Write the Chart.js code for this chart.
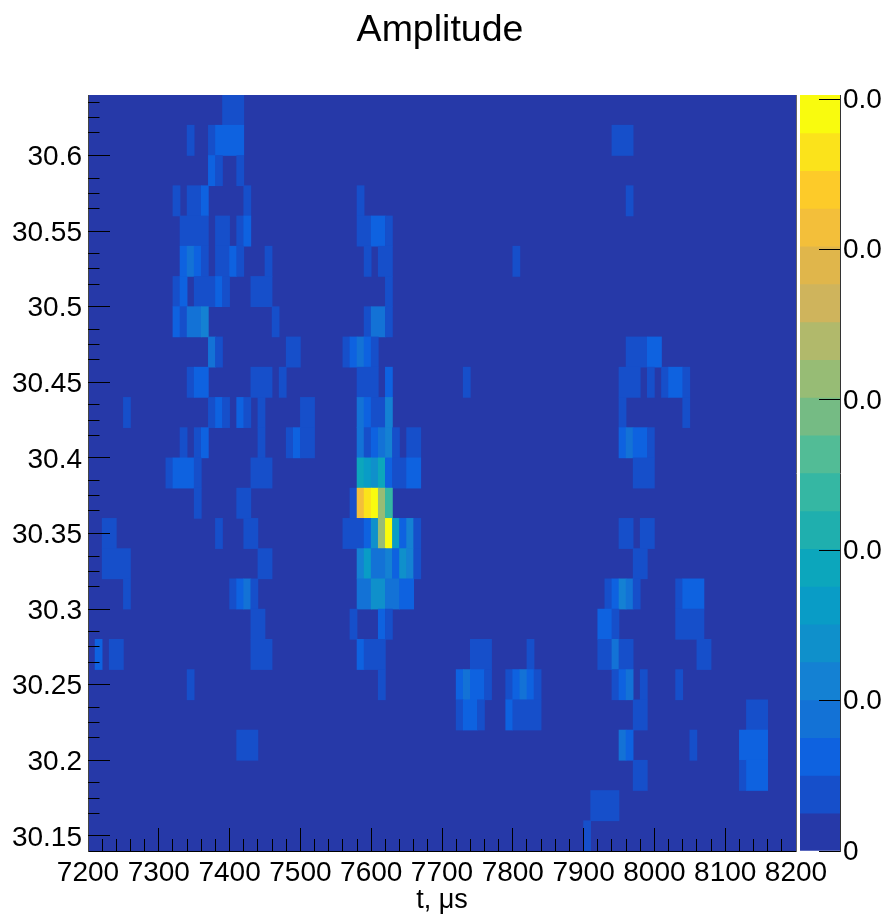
<!DOCTYPE html>
<html>
<head>
<meta charset="utf-8">
<style>
html,body{margin:0;padding:0;background:#fff;width:885px;height:916px;overflow:hidden}
canvas{position:absolute;top:0}
#heat{left:0}
#bar{left:796px}
</style>
<script src="https://cdn.jsdelivr.net/npm/chart.js@4/dist/chart.umd.min.js"></script>
</head>
<body>
<canvas id="heat" width="885" height="916"></canvas>
<canvas id="bar" width="89" height="916"></canvas>
<script>
const chartTitle = "Amplitude";
const xTitle = "t, \u03bcs";
const xMin = 7200, xMax = 8200, xBinWidth = 10;
const yMin = 30.14, yMax = 30.64, yBinHeight = 0.02;
const xMajorTicks = [7200,7300,7400,7500,7600,7700,7800,7900,8000,8100,8200];
const xMinorTicks = [7220,7240,7260,7280,7320,7340,7360,7380,7420,7440,7460,7480,7520,7540,7560,7580,7620,7640,7660,7680,7720,7740,7760,7780,7820,7840,7860,7880,7920,7940,7960,7980,8020,8040,8060,8080,8120,8140,8160,8180];
const yMajorTicks = [30.15,30.2,30.25,30.3,30.35,30.4,30.45,30.5,30.55,30.6];
const yMinorTicks = [30.14,30.16,30.17,30.18,30.19,30.21,30.22,30.23,30.24,30.26,30.27,30.28,30.29,30.31,30.32,30.33,30.34,30.36,30.37,30.38,30.39,30.41,30.42,30.43,30.44,30.46,30.47,30.48,30.49,30.51,30.52,30.53,30.54,30.56,30.57,30.58,30.59,30.61,30.62,30.63,30.64];
const zTicks = [0,0.01,0.02,0.03,0.04,0.05];
const zMax = 0.05027;
const palette = ["#2639a8","#164fca","#0e62e0","#1372d6","#1481d3","#0f90cb","#099cc6","#0ca6bc","#1fafae","#35b7a3","#52bc96","#75bb84","#97bc75","#b1b96b","#cfb45c","#e0b64b","#f3bf3a","#fdcb29","#fbe31b","#f9fb0e"];
/* One list per row of the map, top row first: [first column, last column, colour level]. Everything else is level 0. */
const row00 = [[19,21,1]];
const row01 = [[14,14,1],[17,17,1],[18,21,2],[74,76,1]];
const row02 = [[17,17,2],[18,18,1],[21,21,1]];
const row03 = [[12,12,1],[14,15,1],[16,16,2],[22,22,1],[38,38,1],[76,76,1]];
const row04 = [[13,16,1],[18,19,1],[21,21,1],[22,22,2],[38,39,1],[40,41,2],[42,42,1]];
const row05 = [[13,13,2],[14,14,3],[15,15,2],[16,16,1],[18,19,1],[20,20,2],[21,21,1],[25,25,1],[39,39,1],[41,42,1],[60,60,1]];
const row06 = [[12,12,1],[13,13,2],[15,17,1],[18,18,2],[19,19,1],[23,25,1],[42,42,1]];
const row07 = [[12,12,2],[13,13,1],[14,15,3],[16,16,4],[26,26,1],[39,39,1],[40,41,3],[42,42,1]];
const row08 = [[17,17,3],[18,18,1],[28,29,1],[36,36,1],[37,37,2],[38,38,3],[39,39,2],[40,40,1],[76,78,1],[79,80,2]];
const row09 = [[14,14,1],[15,16,2],[23,25,1],[27,27,1],[38,40,1],[42,42,2],[53,53,1],[75,77,1],[79,79,1],[81,81,1],[82,83,2],[84,84,1]];
const row10 = [[5,5,1],[17,17,1],[18,18,2],[19,19,1],[21,21,2],[22,22,1],[24,24,1],[30,31,1],[38,38,3],[39,39,2],[40,41,1],[42,42,4],[75,75,1],[84,84,1]];
const row11 = [[13,13,1],[15,15,1],[16,16,2],[24,24,1],[28,28,1],[29,29,2],[30,31,1],[38,38,3],[39,39,1],[40,40,2],[41,41,3],[42,42,4],[43,43,1],[45,46,1],[75,75,2],[76,76,3],[77,78,2],[79,79,1]];
const row12 = [[11,11,1],[12,14,2],[15,15,1],[23,25,1],[38,38,7],[39,39,6],[40,40,5],[41,41,7],[42,42,2],[43,44,1],[45,46,2],[77,79,1]];
const row13 = [[15,15,1],[21,22,1],[37,37,1],[38,38,16],[39,39,18],[40,40,19],[41,41,12],[42,42,9]];
const row14 = [[2,3,1],[18,18,1],[22,23,1],[36,38,1],[39,39,2],[40,40,5],[41,41,12],[42,42,19],[43,43,6],[44,44,2],[45,45,4],[46,46,1],[75,76,1],[78,79,1]];
const row15 = [[2,5,1],[24,25,1],[38,38,4],[39,39,6],[40,41,3],[42,42,4],[43,43,2],[44,44,5],[45,45,4],[46,46,1],[77,78,1]];
const row16 = [[5,5,1],[20,20,1],[21,21,2],[22,22,3],[23,23,1],[38,39,3],[40,41,5],[42,43,3],[44,45,2],[73,73,1],[74,74,2],[75,75,4],[76,76,3],[77,77,1],[83,83,1],[84,86,2]];
const row17 = [[23,24,1],[37,37,1],[41,41,2],[42,42,1],[72,73,2],[74,74,1],[83,86,1]];
const row18 = [[1,1,2],[3,4,1],[23,25,1],[38,38,2],[39,41,1],[54,56,1],[62,62,1],[72,73,1],[74,74,3],[75,76,1],[86,87,1]];
const row19 = [[14,14,1],[41,41,1],[52,52,2],[53,53,3],[54,55,2],[56,56,1],[59,59,1],[60,60,2],[61,61,3],[62,62,2],[63,63,1],[74,74,1],[75,75,2],[76,76,3],[78,78,1],[83,83,1]];
const row20 = [[52,52,1],[53,54,2],[55,55,1],[59,59,2],[60,63,1],[77,78,1],[93,95,1]];
const row21 = [[21,23,1],[75,75,3],[76,76,2],[85,85,1],[92,95,2]];
const row22 = [[77,78,1],[92,92,1],[93,95,2]];
const row23 = [[71,74,1]];
const row24 = [[70,70,1]];
const rows = [row00,row01,row02,row03,row04,row05,row06,row07,row08,row09,row10,row11,row12,row13,row14,row15,row16,row17,row18,row19,row20,row21,row22,row23,row24];

const cells = [];
rows.forEach((runs, r) => {
  const yCentre = yMax - yBinHeight * (r + 0.5);
  runs.forEach(([a, b, level]) => {
    cells.push({y: yCentre, x: [xMin + a * xBinWidth, xMin + (b + 1) * xBinWidth], level});
  });
});

const FONT = '"Liberation Sans", Arial, sans-serif';
const tickFont = {family: FONT, size: 28, lineHeight: 1};

function fixedTicks(values){ return s => { s.ticks = values.map(v => ({value: v})); }; }

const background = {
  id: 'mapBackground',
  beforeDatasetsDraw(c){
    const a = c.chartArea;
    c.ctx.save();
    c.ctx.fillStyle = palette[0];
    c.ctx.fillRect(a.left, a.top, a.right - a.left, a.bottom - a.top);
    c.ctx.restore();
  }
};

new Chart(document.getElementById('heat'), {
  type: 'bar',
  plugins: [background],
  data: {datasets: [{
    data: cells,
    backgroundColor: ctx => palette[ctx.raw ? ctx.raw.level : 0],
    borderWidth: 0,
    barPercentage: 1,
    categoryPercentage: 1,
    grouped: false
  }]},
  options: {
    indexAxis: 'y',
    responsive: false,
    animation: false,
    events: [],
    layout: {padding: {left: 0, right: 5, top: 0, bottom: 0}},
    plugins: {
      legend: {display: false},
      tooltip: {enabled: false},
      title: {
        display: true, text: chartTitle, color: '#000',
        font: {family: FONT, size: 37.5, weight: 'normal', lineHeight: 1.2},
        padding: {top: 8, bottom: 42}
      }
    },
    scales: {
      x: {
        type: 'linear', position: 'bottom', min: xMin, max: xMax, weight: 1, offset: false,
        afterBuildTicks: fixedTicks(xMajorTicks),
        afterFit: s => { s.height = 65; },
        grid: {drawOnChartArea: false, tickLength: -23, tickColor: '#000', tickWidth: 1, z: 1},
        border: {display: true, color: '#000', width: 1, z: 1},
        ticks: {autoSkip: false, maxRotation: 0, minRotation: 0, color: '#000', font: tickFont, padding: 31, callback: v => String(v)},
        title: {display: true, text: xTitle, color: '#000', font: {family: FONT, size: 27, lineHeight: 1}, padding: {top: 0, bottom: 2}}
      },
      xMinor: {
        type: 'linear', position: 'bottom', axis: 'x', min: xMin, max: xMax, weight: -1, offset: false,
        afterBuildTicks: fixedTicks(xMinorTicks),
        afterFit: s => { s.height = 0; },
        grid: {drawOnChartArea: false, tickLength: -12, tickColor: '#000', tickWidth: 1, z: 1},
        border: {display: false},
        ticks: {display: false, autoSkip: false}
      },
      y: {
        type: 'linear', position: 'left', min: yMin, max: yMax, weight: 1, offset: false,
        afterBuildTicks: fixedTicks(yMajorTicks),
        afterFit: s => { s.width = 88; },
        grid: {drawOnChartArea: false, offset: false, tickLength: -22, tickColor: '#000', tickWidth: 1, z: 1},
        border: {display: true, color: '#444', width: 1, z: 1},
        ticks: {autoSkip: false, color: '#000', font: tickFont, padding: 28, labelOffset: 2, callback: v => String(v)}
      },
      yMinor: {
        type: 'linear', position: 'left', axis: 'y', min: yMin, max: yMax, weight: -1, offset: false,
        afterBuildTicks: fixedTicks(yMinorTicks),
        afterFit: s => { s.width = 0; },
        grid: {drawOnChartArea: false, tickLength: -11.5, tickColor: '#000', tickWidth: 1, z: 1},
        border: {display: false},
        ticks: {display: false, autoSkip: false}
      },
      yFrame: {
        type: 'linear', position: 'right', axis: 'y', min: yMin, max: yMax, offset: false,
        afterBuildTicks: fixedTicks([]),
        afterFit: s => { s.width = 84; },
        grid: {drawOnChartArea: false, drawTicks: false},
        border: {display: true, color: '#666', width: 1, z: 1},
        ticks: {display: false}
      }
    }
  }
});

const bandStep = zMax / palette.length;
const bands = palette.map((c, i) => ({x: 'z', y: [i * bandStep, (i + 1) * bandStep]}));

new Chart(document.getElementById('bar'), {
  type: 'bar',
  data: {labels: ['z'], datasets: [{
    data: bands,
    backgroundColor: palette,
    borderWidth: 0,
    barPercentage: 1,
    categoryPercentage: 1,
    grouped: false
  }]},
  options: {
    responsive: false,
    animation: false,
    events: [],
    layout: {padding: {left: 4, right: 0, top: 95, bottom: 65}},
    plugins: {legend: {display: false}, tooltip: {enabled: false}},
    scales: {
      x: {display: false, grid: {display: false}},
      y: {
        type: 'linear', position: 'right', min: 0, max: zMax,
        afterBuildTicks: fixedTicks(zTicks),
        afterFit: s => { s.width = 45; },
        grid: {drawOnChartArea: false, tickLength: -21, tickColor: '#000', tickWidth: 1, z: 1},
        border: {display: true, color: '#333', width: 1, z: 1},
        ticks: {autoSkip: false, color: '#000', font: tickFont, padding: 24, labelOffset: 1, callback: v => v === 0 ? '0' : '0.0'}
      }
    }
  }
});
</script>
</body>
</html>
